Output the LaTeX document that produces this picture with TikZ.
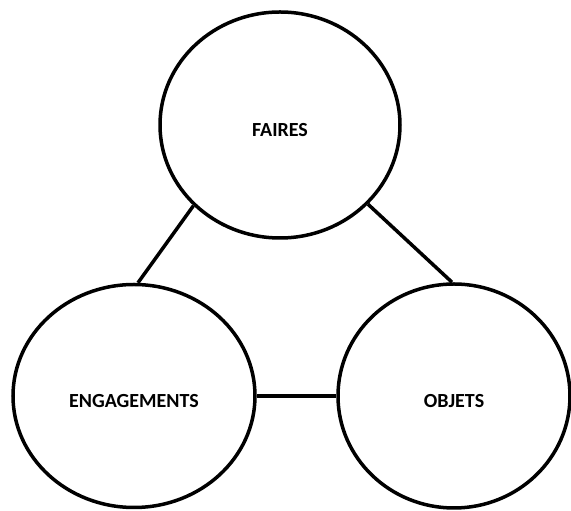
\documentclass[tikz,border=0pt]{standalone}
\usepackage{fontspec}
\setmainfont{Carlito}
\usetikzlibrary{shapes.geometric}
\begin{document}
\begin{tikzpicture}[x=1pt,y=1pt,
  bubble/.style={ellipse,draw=black,line width=3.5pt,inner sep=0pt,
    text height=24pt,text depth=0pt,
    font=\bfseries\fontsize{20}{24}\selectfont},
  link/.style={draw=black,line width=3.5pt}]
\useasboundingbox (0,0) rectangle (571,511);
\fill[white] (0,0) rectangle (571,511);
\node[bubble,minimum width=240pt,minimum height=226pt] (faires) at (280,386) {FAIRES};
\node[bubble,minimum width=242pt,minimum height=223pt] (eng) at (134,115) {ENGAGEMENTS};
\node[bubble,minimum width=232pt,minimum height=224pt] (obj) at (454,115) {OBJETS};
\draw[link] (faires.223) -- (eng.88);
\draw[link] (faires.318) -- (obj.91);
\draw[link] (eng.east) -- (obj.west);
\end{tikzpicture}
\end{document}
